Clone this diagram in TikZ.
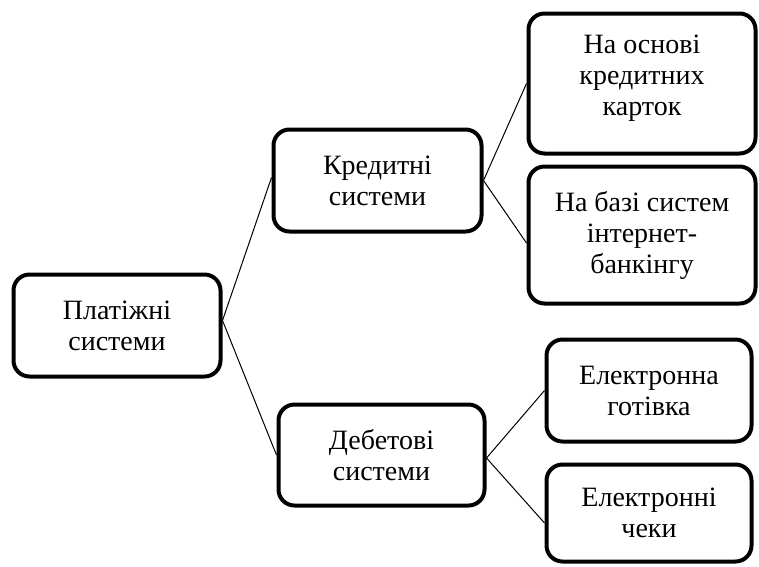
\documentclass[tikz,border=0pt]{standalone}
\usepackage{fontspec}
\setmainfont{Liberation Serif}
% stacked lines sitting slightly above the middle of their box
\newcommand\liftedlines[2]{\raisebox{0pt}[\height][\dimexpr\depth+#1\relax]{\begin{tabular}{@{}c@{}}#2\end{tabular}}}
\begin{document}
\begin{tikzpicture}[x=1pt,y=-1pt,
  box/.style={draw=black, line width=4pt, rounded corners=16pt, fill=white,
    align=center, inner sep=0pt, font=\fontsize{28}{31}\selectfont},
  link/.style={draw=black, line width=1pt}]
  \useasboundingbox (0,0) rectangle (759,566);

  % root
  \node[box, minimum width=207pt, minimum height=102pt] (pay) at (117,325.5) {Платіжні\\системи};

  % second level
  \node[box, minimum width=208pt, minimum height=102pt] (cred) at (377.5,180.5) {Кредитні\\системи};
  \node[box, minimum width=206pt, minimum height=101pt] (deb) at (381.5,455) {Дебетові\\системи};

  % leaves
  \node[box, minimum width=227pt, minimum height=140pt] (cards) at (642,83.5) {\liftedlines{10pt}{На основі\\кредитних\\карток}};
  \node[box, minimum width=227pt, minimum height=137pt] (ibank) at (642,235) {На базі систем\\інтернет-\\банкінгу};
  \node[box, minimum width=205pt, minimum height=102pt] (cash) at (649,390.5) {Електронна\\готівка};
  \node[box, minimum width=205pt, minimum height=97pt] (cheq) at (649,513) {Електронні\\чеки};

  % connectors
  \draw[link] ([yshift=5pt]pay.east) -- ([yshift=3pt]cred.west);
  \draw[link] ([yshift=5pt]pay.east) -- (deb.west);
  \draw[link] (cred.east) -- (cards.west);
  \draw[link] (cred.east) -- ([yshift=-8pt]ibank.west);
  \draw[link] ([yshift=-3pt]deb.east) -- (cash.west);
  \draw[link] ([yshift=-3pt]deb.east) -- ([yshift=-10pt]cheq.west);
\end{tikzpicture}
\end{document}
